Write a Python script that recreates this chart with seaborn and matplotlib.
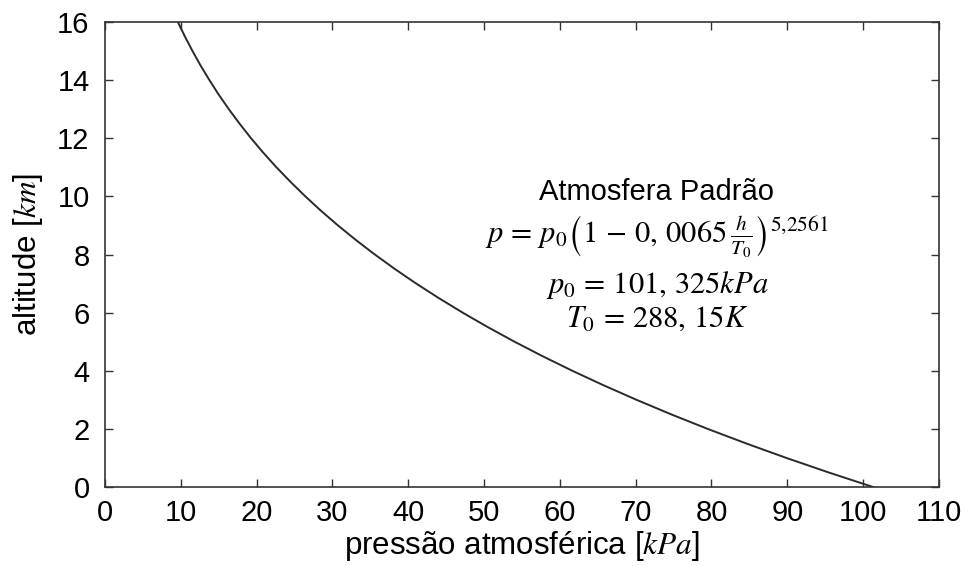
import matplotlib
matplotlib.use("Agg")
import matplotlib.pyplot as plt
import seaborn as sns
import pandas as pd

# altitude (km) and pressure (kPa)
altitude_km = [0, 0.5, 1, 1.5, 2, 2.5, 3, 3.5, 4, 4.5, 5, 5.5, 6, 6.5, 7, 7.5, 8,
               8.5, 9, 9.5, 10, 10.5, 11, 11.5, 12, 12.5, 13, 13.5, 14, 14.5, 15, 15.5, 16]
pressure_kpa = [101.3, 95.46, 89.87, 84.56, 79.49, 74.68, 70.11, 65.77, 61.64, 57.73,
                54.02, 50.51, 47.18, 44.04, 41.06, 38.25, 35.60, 33.10, 30.74, 28.52,
                26.44, 24.48, 22.63, 20.90, 19.28, 17.77, 16.35, 15.02, 13.79, 12.63,
                11.56, 10.56, 9.63]
x_ticks = list(range(0, 111, 10))
y_ticks = list(range(0, 17, 2))

df = pd.DataFrame({"p": pressure_kpa, "h": altitude_km})

sns.set_theme(style="ticks")
plt.rcParams["font.family"] = ["Liberation Sans", "DejaVu Sans"]
plt.rcParams["mathtext.fontset"] = "stix"
plt.rcParams["text.color"] = "black"

fig = plt.figure(figsize=(9.71, 5.66), dpi=100)
ax = fig.add_axes([0.108, 0.1396, 0.859, 0.8215])

sns.lineplot(data=df, x="p", y="h", sort=False, estimator=None, ax=ax,
             color="#2a2a2a", linewidth=1.4)

ax.set_xlim(0, 110)
ax.set_ylim(0, 16)
ax.set_xticks(x_ticks)
ax.set_yticks(y_ticks)
ax.tick_params(direction="in", length=6, width=1.0, top=True, right=True,
               labelsize=21, colors="#333333", labelcolor="black", pad=9)
ax.tick_params(axis="y", pad=11)
for s in ax.spines.values():
    s.set_color("#333333")
    s.set_linewidth(1.2)

ax.set_xlabel("pressão atmosférica [$kPa$]", fontsize=22.5, labelpad=1, color="black")
ax.set_ylabel("altitude [$km$]", fontsize=22.5, labelpad=9, color="black")

cx = 72.8
ax.text(cx, 9.876, "Atmosfera Padrão", ha="center", va="baseline", fontsize=21,
        color="black")
ax.text(cx, 8.40, r"$p\,=\,p_0\left(1\,-\,0,\,0065\,\frac{h}{T_0}\right)^{5{,}2561}$",
        ha="center", va="baseline", fontsize=22, color="black")
ax.text(cx, 6.675, r"$p_0\,=\,101,\,325kPa$", ha="center", va="baseline",
        fontsize=22, color="black")
ax.text(cx, 5.506, r"$T_0\,=\,288,\,15K$", ha="center", va="baseline",
        fontsize=22, color="black")

fig.savefig("out.png", dpi=100)
